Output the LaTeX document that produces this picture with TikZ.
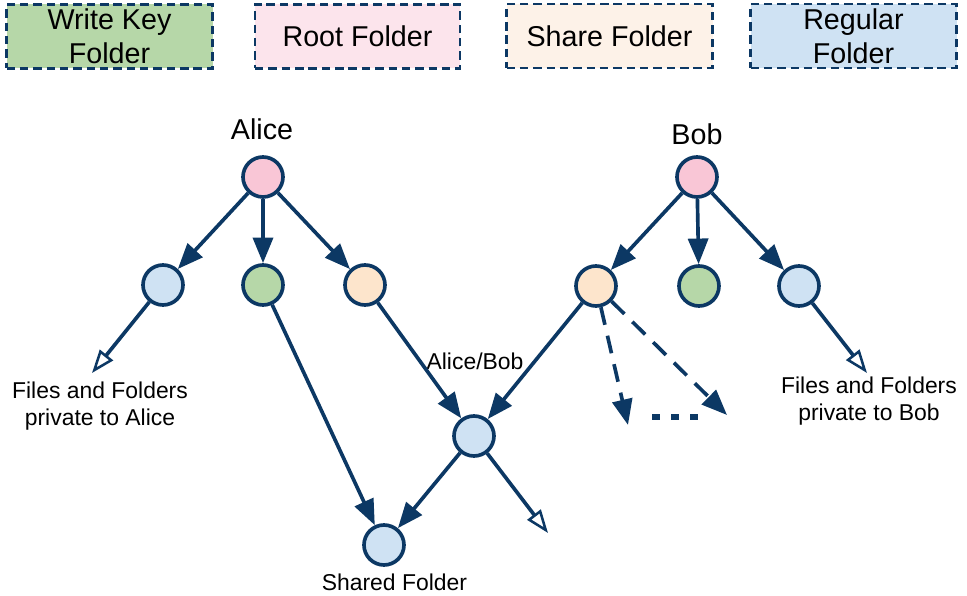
\documentclass[tikz,border=0pt]{standalone}
\usepackage{fontspec}
\setmainfont{Liberation Sans}
\usetikzlibrary{arrows.meta}
\definecolor{navy}{HTML}{0C3864}
\definecolor{wkgreen}{HTML}{B6D7A8}
\definecolor{rootpink}{HTML}{F9C6D6}
\definecolor{rootlight}{HTML}{FCE4EC}
\definecolor{sharepeach}{HTML}{FDE5CC}
\definecolor{sharelight}{HTML}{FDF2E8}
\definecolor{regblue}{HTML}{CFE2F3}

\begin{document}
\begin{tikzpicture}[
    folder/.style={circle, draw=navy, line width=2.6pt, minimum size=1.0cm, inner sep=0pt},
    legendbox/.style={draw=navy, line width=1.9pt, dash pattern=on 6pt off 3.5pt,
	minimum width=5.15cm, minimum height=1.6cm, align=center, inner sep=0pt,
	font=\fontsize{20.4}{24}\selectfont},
    big/.style={font=\fontsize{20.4}{24}\selectfont},
    small/.style={align=center, font=\fontsize{16.3}{19.2}\selectfont},
    link/.style={draw=navy, line width=2.6pt, -{Triangle[length=0.64cm,width=0.5cm]}},
    priv/.style={draw=navy, line width=2.6pt,
	-{Triangle[open, length=0.58cm, width=0.42cm, line width=1.8pt]}},
    more/.style={link, dash pattern=on 0.45cm off 0.28cm}
]
    \useasboundingbox (0, 0) rectangle (24.175, 14.9);
    \node[legendbox, fill=wkgreen] (wkkey) at (2.7375, 13.9875) {Write Key\\Folder};
    \node[legendbox, fill=rootlight, minimum width=5.125cm] (rootkey) at (8.9375, 13.9875) {Root Folder};
    \node[legendbox, fill=sharelight] (sharekey) at (15.2375, 14.0) {Share Folder};
    \node[legendbox, fill=regblue] (regkey) at (21.3375, 14.0) {Regular\\Folder};

    \node[big] (alicename) at (6.55, 11.675) {Alice};
    \node[big] (bobname) at (17.425, 11.55) {Bob};
    \node[folder, fill=rootpink] (alice) at (6.575, 10.475) {};
    \node[folder, fill=regblue] (alicepriv) at (4.075, 7.775) {};
    \node[folder, fill=wkgreen] (alicewk) at (6.575, 7.775) {};
    \node[folder, fill=sharepeach] (aliceshare) at (9.125, 7.775) {};
    \node[folder, fill=rootpink] (bob) at (17.425, 10.475) {};
    \node[folder, fill=sharepeach] (bobshare) at (14.9, 7.75) {};
    \node[folder, fill=wkgreen] (bobwk) at (17.475, 7.75) {};
    \node[folder, fill=regblue] (bobpriv) at (19.975, 7.75) {};
    \node[folder, fill=regblue] (joint) at (11.85, 4.0) {};
    \node[folder, fill=regblue] (shared) at (9.6, 1.275) {};

    \node[small] (jointname) at (11.875, 5.875) {Alice/Bob};
    \node[small] (sharedname) at (9.86, 0.35) {Shared Folder};
    \node[small] (alicefiles) at (2.5, 4.75) {Files and Folders\\private to Alice};
    \node[small] (bobfiles) at (21.725, 4.875) {Files and Folders\\private to Bob};

    \coordinate (aliceend) at (2.3, 5.575);
    \coordinate (jointend) at (13.7, 1.575);
    \coordinate (bobend) at (21.675, 5.575);
    \coordinate (moreA) at (15.7, 4.275);
    \coordinate (moreB) at (18.175, 4.525);

    \draw[link] (alice) -- (alicepriv);
    \draw[link] (alice) -- (alicewk);
    \draw[link] (alice) -- (aliceshare);
    \draw[link] (bob) -- (bobshare);
    \draw[link] (bob) -- (bobwk);
    \draw[link] (bob) -- (bobpriv);
    \draw[link] (alicewk) -- (shared);
    \draw[link] (aliceshare) -- (joint);
    \draw[link] (bobshare) -- (joint);
    \draw[link] (joint) -- (shared);
    \draw[priv] (alicepriv) -- (aliceend);
    \draw[priv] (joint) -- (jointend);
    \draw[priv] (bobpriv) -- (bobend);
    \draw[more] (bobshare) -- (moreA);
    \draw[more] (bobshare) -- (moreB);
    \draw[navy, line width=4.2pt, dash pattern=on 0.19cm off 0.29cm] (16.3, 4.475) -- (17.45, 4.475);
\end{tikzpicture}
\end{document}
